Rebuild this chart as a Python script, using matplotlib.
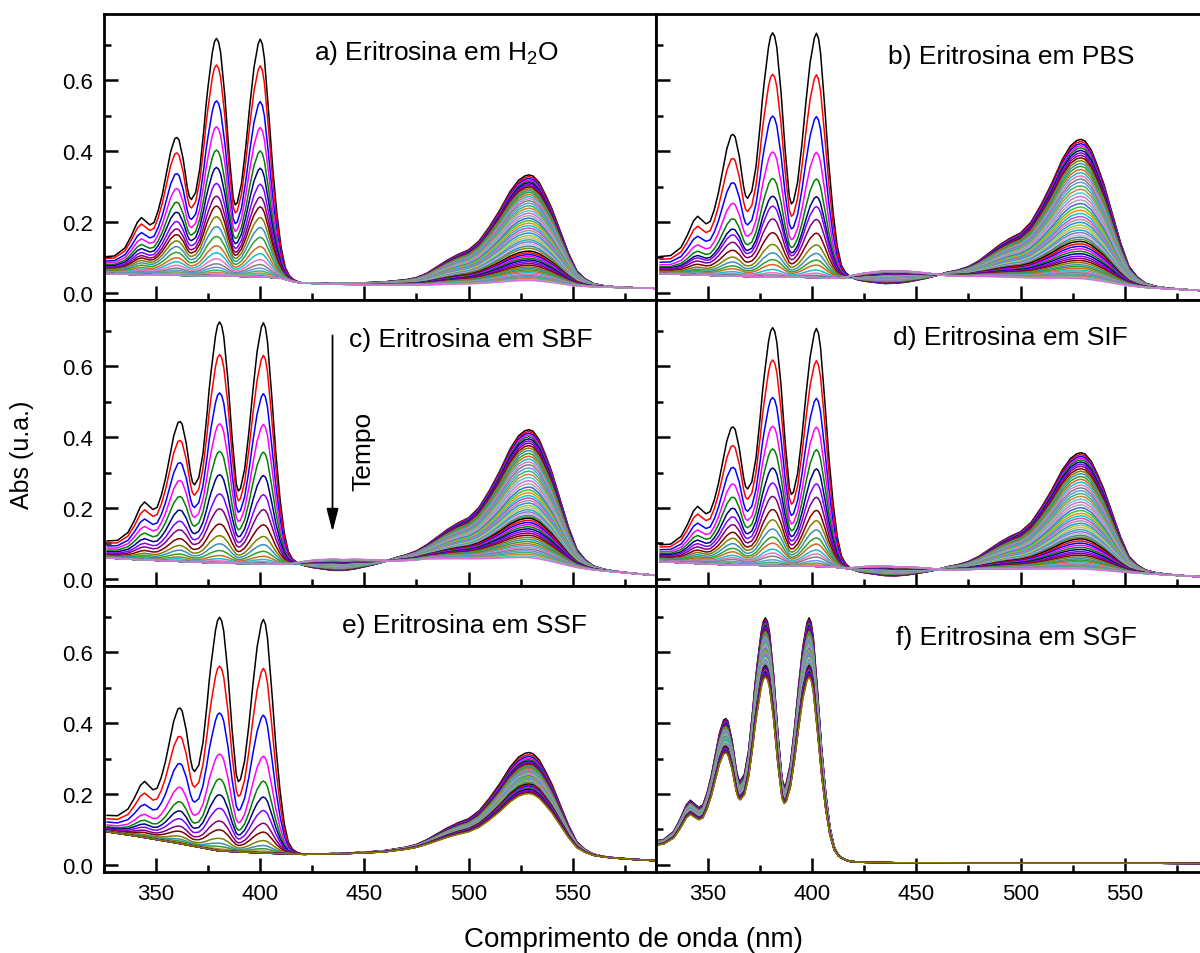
import numpy as np
import matplotlib.pyplot as plt
from matplotlib.ticker import MultipleLocator

plt.rcParams['font.family'] = ['Liberation Sans', 'DejaVu Sans']
plt.rcParams['mathtext.default'] = 'regular'

# wavelength grid (nm) and normalised band shapes
uv_wl = [325, 330, 335, 338, 341, 343, 345, 347, 349, 351, 353, 355, 357, 359, 360,
         361, 363, 365, 366, 367, 369, 371, 373, 374, 375, 377, 378, 379, 380, 381,
         383, 385, 387, 388, 389, 391, 393, 395, 397, 399, 400, 401, 402, 404, 406,
         408, 410, 412, 414, 416, 418, 420]
uv_rel = [0.07, 0.075, 0.11, 0.16, 0.22, 0.24, 0.225, 0.21, 0.22, 0.27, 0.34, 0.43, 0.52, 0.575, 0.58,
          0.57, 0.49, 0.37, 0.33, 0.32, 0.35, 0.45, 0.62, 0.72, 0.80, 0.94, 0.985, 1.0, 0.985, 0.94,
          0.76, 0.52, 0.33, 0.30, 0.31, 0.39, 0.54, 0.72, 0.88, 0.98, 1.0, 0.98, 0.92, 0.70, 0.46,
          0.27, 0.13, 0.05, 0.02, 0.008, 0.003, 0.0]
vis_wl = [425, 430, 435, 440, 445, 450, 455, 460, 465, 470, 475, 480, 485, 490, 495, 500,
          505, 510, 515, 520, 524, 527, 529, 531, 534, 537, 540, 544, 548, 552, 556, 560,
          565, 570, 575, 580, 590]
vis_rel = [0.002, 0.004, 0.007, 0.01, 0.014, 0.018, 0.023, 0.03, 0.04, 0.05, 0.07, 0.11, 0.17,
           0.23, 0.28, 0.32, 0.40, 0.53, 0.68, 0.85, 0.95, 0.99, 1.0, 0.99, 0.93, 0.82, 0.70,
           0.50, 0.30, 0.14, 0.07, 0.03, 0.012, 0.005, 0.002, 0.0, 0.0]

# small band 420-470 nm where the curves spread apart
hump_wl = [416, 425, 435, 445, 455, 465, 474]
hump_rel = [0.0, 0.6, 1.0, 0.95, 0.6, 0.15, 0.0]

# baseline of each medium
base_wl = [325, 340, 360, 380, 400, 410, 416, 420, 440, 460, 480, 500, 530, 560, 590]
base_h2o = [0.055, 0.052, 0.050, 0.048, 0.046, 0.042, 0.032, 0.028, 0.024, 0.022, 0.021, 0.021, 0.020, 0.017, 0.013]
base_pbs = [0.055, 0.052, 0.048, 0.045, 0.044, 0.042, 0.044, 0.045, 0.043, 0.045, 0.046, 0.040, 0.030, 0.015, 0.006]
base_sbf = [0.060, 0.055, 0.050, 0.045, 0.043, 0.042, 0.043, 0.044, 0.038, 0.045, 0.055, 0.052, 0.045, 0.025, 0.010]
base_sif = [0.050, 0.045, 0.040, 0.038, 0.036, 0.034, 0.030, 0.028, 0.020, 0.022, 0.027, 0.027, 0.025, 0.015, 0.005]
base_ssf = [0.095, 0.082, 0.062, 0.040, 0.034, 0.032, 0.031, 0.030, 0.030, 0.032, 0.040, 0.040, 0.035, 0.022, 0.012]
base_sgf = [0.020, 0.020, 0.020, 0.020, 0.020, 0.018, 0.012, 0.008, 0.006, 0.006, 0.005, 0.005, 0.005, 0.005, 0.004]

# height of the UV band (380 nm) and of the visible band (530 nm) for each spectrum in time
u_h2o = [0.67, 0.595, 0.494, 0.421, 0.355, 0.306, 0.261, 0.225, 0.197, 0.167, 0.139, 0.111,
         0.085, 0.065, 0.048, 0.034, 0.024, 0.016, 0.010, 0.006, 0.003] + [0.0] * 36
v_h2o = [0.313, 0.308, 0.303, 0.299, 0.295, 0.291, 0.287, 0.283, 0.279, 0.274, 0.269, 0.264,
         0.258, 0.252, 0.246, 0.240, 0.233, 0.226, 0.219, 0.212, 0.205, 0.198, 0.191, 0.184,
         0.177, 0.170, 0.163, 0.156, 0.149, 0.142, 0.136, 0.130, 0.124, 0.118, 0.112, 0.106,
         0.098, 0.093, 0.088, 0.083, 0.078, 0.073, 0.068, 0.063, 0.058, 0.053, 0.049, 0.045,
         0.041, 0.037, 0.033, 0.029, 0.026, 0.023, 0.020, 0.017, 0.015]

u_pbs = [0.689, 0.572, 0.454, 0.353, 0.278, 0.228, 0.200, 0.164, 0.125, 0.092, 0.068, 0.049,
         0.035, 0.021, 0.012, 0.006, 0.002] + [0.0] * 40
v_pbs = [0.403, 0.397, 0.391, 0.385, 0.379, 0.372, 0.365, 0.358, 0.351, 0.343, 0.335, 0.327,
         0.318, 0.309, 0.300, 0.291, 0.282, 0.272, 0.262, 0.252, 0.242, 0.232, 0.222, 0.212,
         0.203, 0.194, 0.185, 0.177, 0.169, 0.161, 0.154, 0.147, 0.140, 0.133, 0.127, 0.121,
         0.115, 0.108, 0.101, 0.094, 0.087, 0.080, 0.073, 0.067, 0.061, 0.055, 0.049, 0.044,
         0.039, 0.034, 0.030, 0.026, 0.022, 0.019, 0.016, 0.013, 0.010]

u_sbf = [0.68, 0.588, 0.48, 0.393, 0.315, 0.249, 0.195, 0.153, 0.110, 0.077, 0.054, 0.035,
         0.021, 0.012, 0.006, 0.002] + [0.0] * 41
v_sbf = [0.376, 0.371, 0.366, 0.361, 0.356, 0.350, 0.344, 0.338, 0.331, 0.324, 0.317, 0.309,
         0.301, 0.293, 0.285, 0.277, 0.268, 0.259, 0.250, 0.241, 0.232, 0.223, 0.214, 0.206,
         0.198, 0.190, 0.183, 0.176, 0.169, 0.162, 0.156, 0.150, 0.144, 0.139, 0.134, 0.130,
         0.126, 0.120, 0.114, 0.108, 0.102, 0.096, 0.090, 0.084, 0.078, 0.072, 0.066, 0.060,
         0.054, 0.049, 0.044, 0.039, 0.034, 0.029, 0.024, 0.019, 0.015]

u_sif = [0.671, 0.58, 0.474, 0.393, 0.329, 0.275, 0.233, 0.195, 0.158, 0.129, 0.103, 0.08,
         0.063, 0.046, 0.035, 0.026, 0.016, 0.009, 0.004, 0.001] + [0.0] * 37
v_sif = [0.331, 0.326, 0.321, 0.316, 0.311, 0.305, 0.299, 0.293, 0.286, 0.279, 0.272, 0.264,
         0.256, 0.248, 0.240, 0.232, 0.224, 0.216, 0.208, 0.200, 0.192, 0.184, 0.176, 0.168,
         0.160, 0.153, 0.146, 0.139, 0.132, 0.126, 0.120, 0.114, 0.108, 0.103, 0.098, 0.093,
         0.088, 0.082, 0.076, 0.070, 0.064, 0.058, 0.052, 0.047, 0.042, 0.037, 0.032, 0.028,
         0.024, 0.020, 0.017, 0.014, 0.011, 0.009, 0.007, 0.005, 0.003]

u_ssf = [0.659, 0.521, 0.389, 0.273, 0.203, 0.158, 0.120, 0.084, 0.059, 0.035, 0.021, 0.012,
         0.005, 0.002] + [0.0] * 32
v_ssf = [0.282, 0.276, 0.271, 0.266, 0.262, 0.258, 0.255, 0.252, 0.249, 0.246, 0.243, 0.240,
         0.237, 0.234, 0.232, 0.230, 0.228, 0.226, 0.224, 0.222, 0.220, 0.218, 0.216, 0.214,
         0.212, 0.210, 0.208, 0.206, 0.204, 0.203, 0.202, 0.201, 0.200, 0.199, 0.198, 0.197,
         0.193, 0.190, 0.187, 0.184, 0.181, 0.178, 0.175, 0.172, 0.169, 0.166]

u_sgf = [0.677, 0.671, 0.667, 0.662, 0.659, 0.654, 0.651, 0.646, 0.643, 0.639, 0.635, 0.631,
         0.627, 0.624, 0.620, 0.616, 0.613, 0.609, 0.605, 0.602, 0.598, 0.594, 0.591, 0.587,
         0.584, 0.580, 0.577, 0.573, 0.570, 0.566, 0.563, 0.559, 0.556, 0.552, 0.549, 0.545,
         0.542, 0.538, 0.535, 0.531, 0.528, 0.524, 0.521, 0.517, 0.514, 0.510]
v_sgf = [0.0] * 46

labels = ['a) Eritrosina em H$_2$O', 'b) Eritrosina em PBS', 'c) Eritrosina em SBF',
          'd) Eritrosina em SIF', 'e) Eritrosina em SSF', 'f) Eritrosina em SGF']
uv_shift = [0.0, 2.0, 1.5, 2.0, 1.5, -1.5]      # nm, position of the UV peaks in each medium
hump_amp = [0.0, 0.02, 0.018, 0.015, 0.0, 0.0]

colors = ['#000000', '#ff0000', '#0000ff', '#ff00ff', '#008000', '#000080', '#8000ff', '#800080',
          '#800000', '#808000', '#3a8fb7', '#2ca02c', '#d2691e', '#17becf', '#e377c2', '#7f7f7f',
          '#6495ed', '#3cb371', '#cd853f', '#48d1cc', '#da70d6', '#a9a9a9', '#4169e1', '#32cd32',
          '#ff8c00', '#00ced1', '#ba55d3', '#bc8f8f', '#1e90ff', '#9acd32', '#d2b48c', '#20b2aa',
          '#9370db', '#c0c0c0', '#4682b4', '#6b8e23']

panels = [(u_h2o, v_h2o, base_h2o), (u_pbs, v_pbs, base_pbs), (u_sbf, v_sbf, base_sbf),
          (u_sif, v_sif, base_sif), (u_ssf, v_ssf, base_ssf), (u_sgf, v_sgf, base_sgf)]

wl = np.array(uv_wl + vis_wl, dtype=float)
uv_shape = np.array(uv_rel + [0.0] * len(vis_wl))
vis_shape = np.array([0.0] * len(uv_wl) + vis_rel)

label_pos = [(0.380, 0.843), (0.421, 0.829), (0.444, 0.840),
             (0.429, 0.846), (0.431, 0.838), (0.434, 0.797)]

W, H = 1200, 954
fig = plt.figure(figsize=(12, 9.54), dpi=100)
col_left = [104, 656]
row_top = [15, 301, 587]
ph = 286

for p, (u, v, base) in enumerate(panels):
    row, col = divmod(p, 2)
    ax = fig.add_axes([col_left[col] / W, 1 - (row_top[row] + ph) / H, 552 / W, ph / H])

    x = np.where(wl <= 420, wl + uv_shift[p], wl)
    b = np.interp(x, base_wl, base)
    hump = np.interp(x, hump_wl, hump_rel)
    for i in range(len(v)):
        y = u[i] * uv_shape + v[i] * vis_shape + b
        if hump_amp[p] > 0:
            y = y + hump_amp[p] * (1 - 2 * v[i] / v[0]) * hump
        ax.plot(x, y, color=colors[i % len(colors)], lw=1.1)

    ax.set_xlim(325, 590)
    ax.set_ylim(-0.02, 0.787)
    ax.xaxis.set_major_locator(MultipleLocator(50))
    ax.xaxis.set_minor_locator(MultipleLocator(25))
    ax.yaxis.set_major_locator(MultipleLocator(0.2))
    ax.yaxis.set_minor_locator(MultipleLocator(0.1))
    ax.tick_params(which='both', direction='in', width=1.8, top=False, right=False,
                   labelsize=16)
    ax.tick_params(which='major', length=10, pad=8)
    ax.tick_params(which='minor', length=5)
    ax.yaxis.set_major_formatter(plt.FormatStrFormatter('%.1f'))
    if col == 1:
        ax.tick_params(labelleft=False)
    if row < 2:
        ax.tick_params(labelbottom=False)
    for s in ax.spines.values():
        s.set_linewidth(2.0)
        s.set_zorder(5)

    tx, ty = label_pos[p]
    ax.text(tx, ty, labels[p], transform=ax.transAxes, fontsize=19, va='baseline')

    if p == 2:
        ax.annotate('', xy=(434.7, 0.133), xytext=(434.7, 0.687),
                    arrowprops=dict(arrowstyle='-|>,head_length=1.4,head_width=0.36',
                                    lw=1.3, color='black', shrinkA=0, shrinkB=0))
        ax.text(449.5, 0.363, 'Tempo', rotation=90, fontsize=19, ha='center', va='center')

fig.text(633 / W, 1 - 940 / H, 'Comprimento de onda (nm)', fontsize=20, ha='center', va='center')
fig.text(22 / W, 1 - 455 / H, 'Abs (u.a.)', fontsize=18, rotation=90, ha='center', va='center')

fig.savefig('out.png', dpi=100)
